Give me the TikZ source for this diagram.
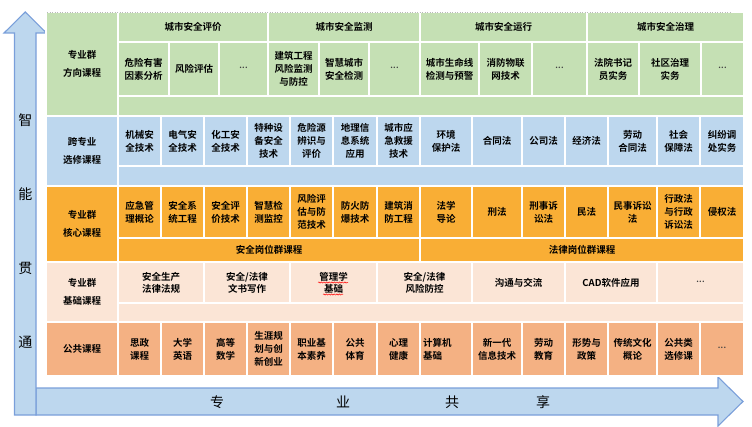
\documentclass[tikz,border=0pt]{standalone}
\usepackage{fontspec}
\newfontfamily\cjk{Noto Sans CJK SC}[BoldFont={Noto Sans CJK SC Bold}]
\usetikzlibrary{decorations.pathmorphing}
\definecolor{cgreen}{HTML}{C5E0B4}
\definecolor{cblue}{HTML}{BDD7EE}
\definecolor{corange}{HTML}{F9AE35}
\definecolor{cpeach}{HTML}{FBE5D6}
\definecolor{csalmon}{HTML}{F4B183}
\definecolor{arrowfill}{HTML}{BDD7EE}
\definecolor{arrowline}{HTML}{7A9FDA}
\newcommand\cell[7]{%
  \node[cellbase,#6,minimum width={(#4-#2)*1pt},minimum height={(#5-#3)*1pt}]
    (#1) at ({(#2+#4)/2},{(#3+#5)/2}) {#7};}
\newcommand\dotsx{{\fontsize{8}{8}\selectfont\color{black!75}\raisebox{2.4pt}{.\kern0.3pt.\kern0.3pt.}}}
\tikzset{
  cellbase/.style={draw=white,line width=2pt,inner sep=0pt,align=center,text=black,
    font={\cjk\bfseries\fontsize{9.5}{13}\selectfont}},
  rowlabel/.style={font={\cjk\bfseries\fontsize{9.5}{18.5}\selectfont}},
  tight/.style={font={\cjk\bfseries\fontsize{9.5}{12}\selectfont}},
  bigarrow/.style={fill=arrowfill,draw=arrowline,line width=1.1pt,line join=miter},
  arrowtext/.style={font={\cjk\fontsize{14}{16}\selectfont},text=black,inner sep=0pt},
  squiggle/.style={red,line width=0.5pt,decorate,decoration={snake,amplitude=0.6pt,segment length=2.6pt}}
}
\begin{document}
\begin{tikzpicture}[x=1pt,y=-1pt]
\useasboundingbox (0,0) rectangle (752,427);
% ---------- arrows ----------
\draw[bigarrow] (36,388) -- (718,388) -- (718,377) -- (743,401.5) -- (718,426) -- (718,415) -- (36,415) -- cycle;
\draw[bigarrow] (14.5,415) -- (14.5,33) -- (4,33) -- (25.25,12) -- (46.5,33) -- (36,33) -- (36,415) -- cycle;
\node[arrowtext] (v1) at (25.25,120) {智};
\node[arrowtext] (v2) at (25.25,194) {能};
\node[arrowtext] (v3) at (25.25,268) {贯};
\node[arrowtext] (v4) at (25.25,342) {通};
\node[arrowtext] (h1) at (217,402) {专};
\node[arrowtext] (h2) at (343,402) {业};
\node[arrowtext] (h3) at (452,402) {共};
\node[arrowtext] (h4) at (543,402) {享};
% ---------- row 1: green ----------
\cell{g-lab}{46}{12}{118}{116}{rowlabel,fill=cgreen}{专业群\\方向课程}
\cell{g-h1}{118}{12}{268}{42}{fill=cgreen}{城市安全评价}
\cell{g-h2}{268}{12}{420}{42}{fill=cgreen}{城市安全监测}
\cell{g-h3}{420}{12}{587}{42}{fill=cgreen}{城市安全运行}
\cell{g-h4}{587}{12}{744}{42}{fill=cgreen}{城市安全治理}
\cell{g-c1}{118}{42}{169}{96}{fill=cgreen}{危险有害\\因素分析}
\cell{g-c2}{169}{42}{219}{96}{fill=cgreen}{风险评估}
\cell{g-c3}{219}{42}{268}{96}{fill=cgreen}{\dotsx}
\cell{g-c4}{268}{42}{319}{96}{fill=cgreen}{建筑工程\\风险监测\\与防控}
\cell{g-c5}{319}{42}{369}{96}{fill=cgreen}{智慧城市\\安全检测}
\cell{g-c6}{369}{42}{420}{96}{fill=cgreen}{\dotsx}
\cell{g-c7}{420}{42}{479}{96}{fill=cgreen}{城市生命线\\检测与预警}
\cell{g-c8}{479}{42}{532}{96}{fill=cgreen}{消防物联\\网技术}
\cell{g-c9}{532}{42}{587}{96}{fill=cgreen}{\dotsx}
\cell{g-c10}{587}{42}{639}{96}{fill=cgreen}{法院书记\\员实务}
\cell{g-c11}{639}{42}{701}{96}{fill=cgreen}{社区治理\\实务}
\cell{g-c12}{701}{42}{744}{96}{fill=cgreen}{\dotsx}
\cell{g-e}{118}{96}{744}{116}{fill=cgreen}{}
% ---------- row 2: blue ----------
\cell{b-lab}{46}{116}{118}{186}{rowlabel,fill=cblue}{跨专业\\选修课程}
\cell{b-c1}{118}{116}{161}{166}{fill=cblue}{机械安\\全技术}
\cell{b-c2}{161}{116}{204}{166}{fill=cblue}{电气安\\全技术}
\cell{b-c3}{204}{116}{247}{166}{fill=cblue}{化工安\\全技术}
\cell{b-c4}{247}{116}{290}{166}{fill=cblue}{特种设\\备安全\\技术}
\cell{b-c5}{290}{116}{333}{166}{fill=cblue}{危险源\\辨识与\\评价}
\cell{b-c6}{333}{116}{377}{166}{fill=cblue}{地理信\\息系统\\应用}
\cell{b-c7}{377}{116}{420}{166}{fill=cblue}{城市应\\急救援\\技术}
\cell{b-c8}{420}{116}{472}{166}{fill=cblue}{环境\\保护法}
\cell{b-c9}{472}{116}{522}{166}{fill=cblue}{合同法}
\cell{b-c10}{522}{116}{565}{166}{fill=cblue}{公司法}
\cell{b-c11}{565}{116}{608}{166}{fill=cblue}{经济法}
\cell{b-c12}{608}{116}{657}{166}{fill=cblue}{劳动\\合同法}
\cell{b-c13}{657}{116}{700}{166}{fill=cblue}{社会\\保障法}
\cell{b-c14}{700}{116}{744}{166}{fill=cblue}{纠纷调\\处实务}
\cell{b-e}{118}{166}{744}{186}{fill=cblue}{}
% ---------- row 3: orange ----------
\cell{o-lab}{46}{186}{118}{262}{rowlabel,fill=corange}{专业群\\核心课程}
\cell{o-c1}{118}{186}{161}{238}{fill=corange}{应急管\\理概论}
\cell{o-c2}{161}{186}{204}{238}{fill=corange}{安全系\\统工程}
\cell{o-c3}{204}{186}{247}{238}{fill=corange}{安全评\\价技术}
\cell{o-c4}{247}{186}{290}{238}{fill=corange}{智慧检\\测监控}
\cell{o-c5}{290}{186}{333}{238}{fill=corange}{风险评\\估与防\\范技术}
\cell{o-c6}{333}{186}{377}{238}{fill=corange}{防火防\\爆技术}
\cell{o-c7}{377}{186}{420}{238}{fill=corange}{建筑消\\防工程}
\cell{o-c8}{420}{186}{472}{238}{fill=corange}{法学\\导论}
\cell{o-c9}{472}{186}{522}{238}{fill=corange}{刑法}
\cell{o-c10}{522}{186}{565}{238}{fill=corange}{刑事诉\\讼法}
\cell{o-c11}{565}{186}{608}{238}{fill=corange}{民法}
\cell{o-c12}{608}{186}{657}{238}{fill=corange}{民事诉讼\\法}
\cell{o-c13}{657}{186}{700}{238}{fill=corange}{行政法\\与行政\\诉讼法}
\cell{o-c14}{700}{186}{744}{238}{fill=corange}{侵权法}
\cell{o-g1}{118}{238}{420}{262}{fill=corange}{安全岗位群课程}
\cell{o-g2}{420}{238}{744}{262}{fill=corange}{法律岗位群课程}
% ---------- row 4: peach ----------
\cell{p-lab}{46}{262}{118}{322}{rowlabel,fill=cpeach}{专业群\\基础课程}
\cell{p-c1}{118}{262}{204}{303}{tight,fill=cpeach}{安全生产\\法律法规}
\cell{p-c2}{204}{262}{290}{303}{tight,fill=cpeach}{安全/法律\\文书写作}
\cell{p-c3}{290}{262}{377}{303}{tight,fill=cpeach}{管理学\\基础}
\cell{p-c4}{377}{262}{472}{303}{tight,fill=cpeach}{安全/法律\\风险防控}
\cell{p-c5}{472}{262}{565}{303}{tight,fill=cpeach}{沟通与交流}
\cell{p-c6}{565}{262}{657}{303}{tight,fill=cpeach}{CAD软件应用}
\cell{p-c7}{657}{262}{744}{303}{tight,fill=cpeach}{\dotsx}
\cell{p-e}{118}{303}{744}{322}{fill=cpeach}{}
\draw[squiggle] (318,282.5) -- (348,282.5);
\draw[squiggle] (323,294.5) -- (343,294.5);
% ---------- row 5: salmon ----------
\cell{s-lab}{46}{322}{118}{376}{rowlabel,fill=csalmon}{公共课程}
\cell{s-c1}{118}{322}{161}{376}{fill=csalmon}{思政\\课程}
\cell{s-c2}{161}{322}{204}{376}{fill=csalmon}{大学\\英语}
\cell{s-c3}{204}{322}{247}{376}{fill=csalmon}{高等\\数学}
\cell{s-c4}{247}{322}{290}{376}{fill=csalmon}{生涯规\\划与创\\新创业}
\cell{s-c5}{290}{322}{333}{376}{fill=csalmon}{职业基\\本素养}
\cell{s-c6}{333}{322}{377}{376}{fill=csalmon}{公共\\体育}
\cell{s-c7}{377}{322}{420}{376}{fill=csalmon}{心理\\健康}
\cell{s-c8}{420}{322}{472}{376}{fill=csalmon,text width=46pt,align=left}{计算机\\基础}
\cell{s-c9}{472}{322}{522}{376}{fill=csalmon}{新一代\\信息技术}
\cell{s-c10}{522}{322}{565}{376}{fill=csalmon}{劳动\\教育}
\cell{s-c11}{565}{322}{608}{376}{fill=csalmon}{形势与\\政策}
\cell{s-c12}{608}{322}{657}{376}{fill=csalmon}{传统文化\\概论}
\cell{s-c13}{657}{322}{700}{376}{fill=csalmon}{公共类\\选修课}
\cell{s-c14}{700}{322}{744}{376}{fill=csalmon}{\dotsx}
% top dotted edge
\draw[gray!55,dotted,line width=0.5pt] (47,12.6) -- (730,12.6);
\end{tikzpicture}
\end{document}
